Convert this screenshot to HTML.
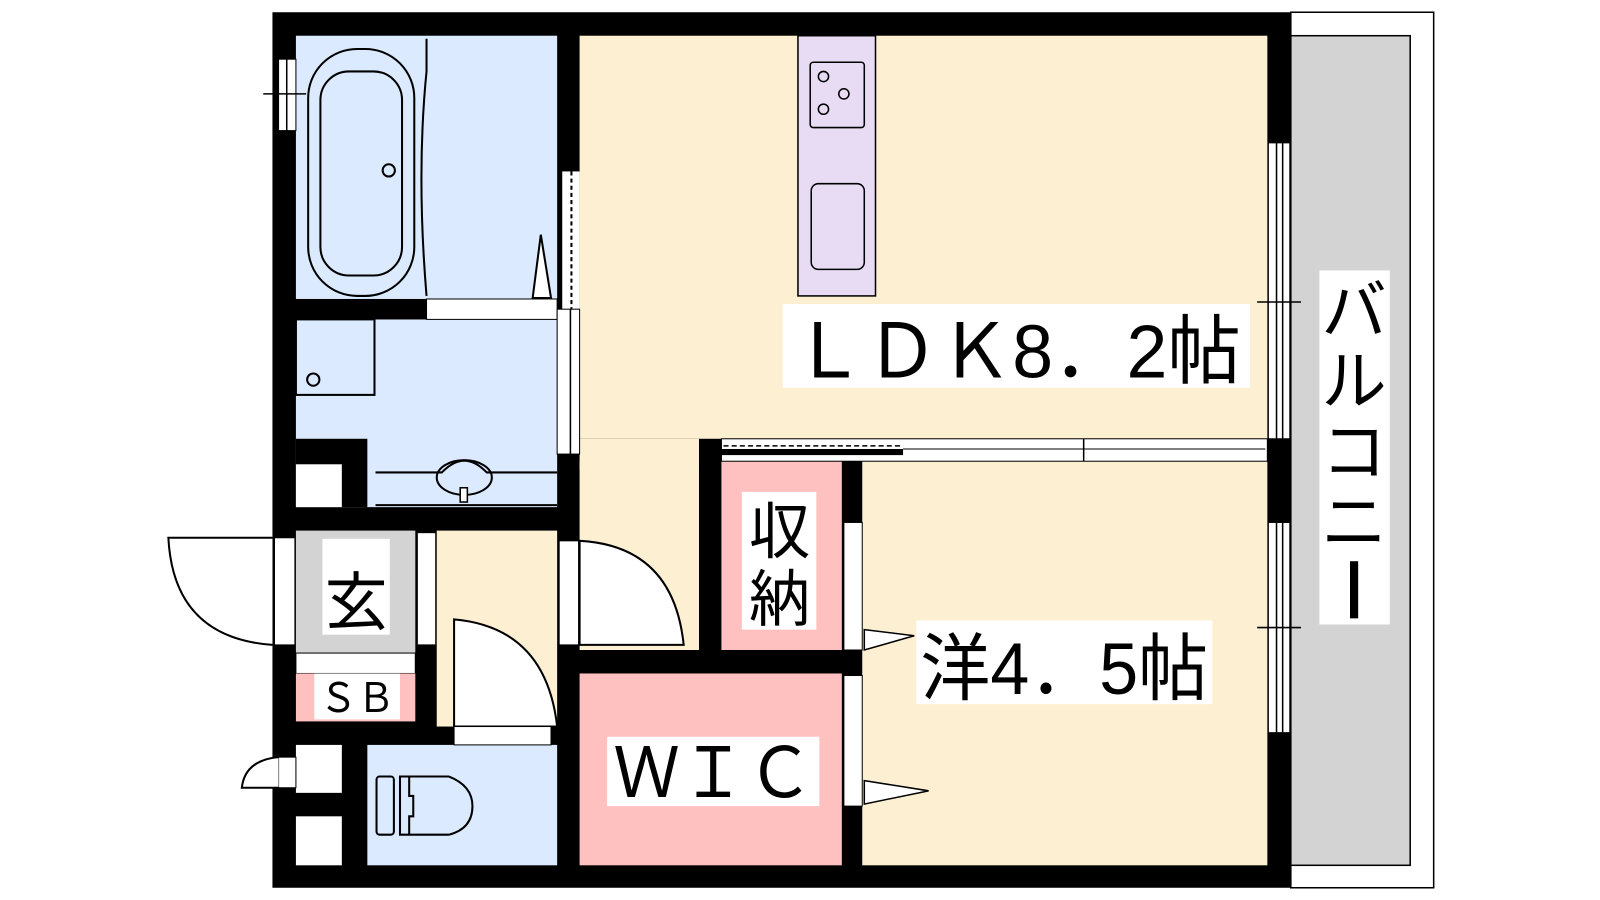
<!DOCTYPE html>
<html><head><meta charset="utf-8"><style>
html,body{margin:0;padding:0;background:#fff;}
svg{display:block}
text{font-family:"Liberation Sans","Noto Sans CJK JP",sans-serif;fill:#000}
</style></head><body>
<svg width="1600" height="900" viewBox="0 0 1568 882" preserveAspectRatio="none" xmlns="http://www.w3.org/2000/svg">
<!-- balcony -->
<rect x="1265" y="12" width="140" height="858" fill="#fff" stroke="#000" stroke-width="1.5"/>
<rect x="1265" y="35" width="117" height="813" fill="#d3d3d3" stroke="#000" stroke-width="1.5"/>
<!-- walls base -->
<rect x="267" y="12" width="998" height="858" fill="#000"/>
<!-- rooms -->
<rect x="568" y="35" width="674" height="395" fill="#fdf0d2"/>
<rect x="845" y="452" width="397" height="396" fill="#fdf0d2"/>
<rect x="290" y="35" width="256" height="258" fill="#dbeafe"/>
<rect x="290" y="313" width="256" height="184" fill="#dbeafe"/>
<rect x="568" y="452" width="117" height="185" fill="#fdf0d2"/>
<rect x="568" y="430" width="117" height="30" fill="#fdf0d2"/>
<rect x="707" y="452" width="118" height="185" fill="#ffc0c0"/>
<rect x="568" y="660" width="257" height="188" fill="#ffc0c0"/>
<rect x="290" y="520" width="117" height="120" fill="#d3d3d3"/>
<rect x="290" y="640" width="117" height="20" fill="#fff" stroke="#000" stroke-width="1"/>
<rect x="290" y="660" width="117" height="47" fill="#ffc0c0"/>
<rect x="428" y="520" width="118" height="192" fill="#fdf0d2"/>
<rect x="360" y="730" width="186" height="118" fill="#dbeafe"/>
<!-- bath inner black/white details -->
<rect x="290" y="430" width="70" height="67" fill="#000"/>
<rect x="290" y="455" width="45" height="42" fill="#fff"/>
<rect x="290" y="730" width="45" height="47" fill="#fff"/>
<rect x="290" y="800" width="45" height="48" fill="#fff"/>
<rect x="290" y="293" width="128" height="20" fill="#000"/>
<rect x="418" y="293" width="128" height="20" fill="#fff" stroke="#000" stroke-width="1"/>
<!-- bathtub -->
<rect x="302" y="48" width="104" height="242" rx="48" fill="none" stroke="#000" stroke-width="2"/>
<rect x="314" y="70" width="80" height="200" rx="28" fill="none" stroke="#000" stroke-width="2"/>
<circle cx="381" cy="167" r="6" fill="none" stroke="#000" stroke-width="2"/>
<path d="M418 38 V70 Q408 170 418 290" fill="none" stroke="#000" stroke-width="2"/>
<polygon points="530,230 522,292 540,292" fill="#fff" stroke="#000" stroke-width="2"/>
<!-- washroom -->
<rect x="290" y="313" width="77" height="74" fill="none" stroke="#000" stroke-width="2"/>
<circle cx="307" cy="372" r="6" fill="none" stroke="#000" stroke-width="2"/>
<path d="M368 463 H433 Q455 440 477 463 H546" fill="none" stroke="#000" stroke-width="2"/>
<ellipse cx="455" cy="468" rx="27" ry="17" fill="none" stroke="#000" stroke-width="2"/>
<rect x="451" y="478" width="7" height="14" fill="#fff" stroke="#000" stroke-width="1.5"/>
<line x1="368" y1="495" x2="546" y2="495" stroke="#000" stroke-width="2"/>
<!-- bath-ldk wall openings -->
<rect x="551" y="168" width="17" height="135" fill="#fff"/>
<line x1="560" y1="168" x2="560" y2="303" stroke="#000" stroke-width="2" stroke-dasharray="4,3"/>
<rect x="546" y="303" width="22" height="142" fill="#fff" stroke="#000" stroke-width="1"/>
<line x1="559" y1="303" x2="559" y2="445" stroke="#000" stroke-width="1.5"/>
<!-- left window -->
<rect x="273" y="58" width="17" height="70" fill="#fff" stroke="#000" stroke-width="1"/>
<line x1="281" y1="58" x2="281" y2="128" stroke="#000" stroke-width="1.5"/>
<line x1="258" y1="92" x2="300" y2="92" stroke="#000" stroke-width="1.5"/>
<!-- entrance door -->
<rect x="269" y="527" width="20" height="105" fill="#fff" stroke="#000" stroke-width="1"/>
<path d="M267 527 H165 Q170 625 267 632" fill="#fff" stroke="#000" stroke-width="2"/>
<rect x="409" y="522" width="18" height="110" fill="#fff" stroke="#000" stroke-width="1"/>
<!-- hall door -->
<path d="M445 607 Q535 615 546 712 H445 Z" fill="#fff" stroke="#000" stroke-width="2"/>
<rect x="445" y="712" width="95" height="18" fill="#fff" stroke="#000" stroke-width="1"/>
<!-- toilet small door -->
<rect x="273" y="742" width="17" height="30" fill="#fff" stroke="#000" stroke-width="1"/>
<path d="M273 742 Q240 745 237 772 H273" fill="#fff" stroke="#000" stroke-width="2"/>
<!-- toilet -->
<rect x="369" y="761" width="17" height="57" rx="3" fill="#dbeafe" stroke="#000" stroke-width="2"/>
<path d="M392 761 H440 Q463 770 463 790 Q463 812 440 818 H392 Z" fill="#dbeafe" stroke="#000" stroke-width="2"/>
<path d="M401 761 V780 H405 V800 H401 V818" fill="none" stroke="#000" stroke-width="2"/>
<!-- LDK door from hallway -->
<rect x="548" y="530" width="19" height="102" fill="#fff" stroke="#000" stroke-width="1"/>
<path d="M568 530 Q660 535 670 632 H568 Z" fill="#fff" stroke="#000" stroke-width="2"/>
<!-- divider wall LDK / western room -->
<rect x="707" y="430" width="535" height="22" fill="#fff" stroke="#000" stroke-width="1"/>
<rect x="707" y="440" width="178" height="6" fill="#000"/>
<line x1="709" y1="437" x2="885" y2="437" stroke="#000" stroke-width="1.5" stroke-dasharray="5,3"/>
<line x1="885" y1="440" x2="1240" y2="440" stroke="#000" stroke-width="1"/>
<line x1="1062" y1="430" x2="1062" y2="452" stroke="#000" stroke-width="1.5"/>
<!-- doors into western room -->
<rect x="827" y="512" width="18" height="125" fill="#fff" stroke="#000" stroke-width="1"/>
<polygon points="847,617 896,623 847,637" fill="#fff" stroke="#000" stroke-width="1.5"/>
<rect x="827" y="662" width="18" height="128" fill="#fff" stroke="#000" stroke-width="1"/>
<polygon points="847,765 910,775 847,788" fill="#fff" stroke="#000" stroke-width="1.5"/>
<!-- right windows -->
<rect x="1243" y="140" width="21" height="290" fill="#fff" stroke="#000" stroke-width="1"/>
<line x1="1251" y1="140" x2="1251" y2="430" stroke="#000" stroke-width="1.5"/>
<line x1="1257" y1="140" x2="1257" y2="430" stroke="#000" stroke-width="1.5"/>
<rect x="1243" y="512" width="21" height="206" fill="#fff" stroke="#000" stroke-width="1"/>
<line x1="1251" y1="512" x2="1251" y2="718" stroke="#000" stroke-width="1.5"/>
<line x1="1257" y1="512" x2="1257" y2="718" stroke="#000" stroke-width="1.5"/>
<line x1="1232" y1="296" x2="1275" y2="296" stroke="#000" stroke-width="1.5"/>
<line x1="1232" y1="615" x2="1275" y2="615" stroke="#000" stroke-width="1.5"/>
<!-- kitchen -->
<rect x="782" y="35" width="76" height="255" fill="#e8dcf5" stroke="#000" stroke-width="1.5"/>
<rect x="794" y="61" width="53" height="64" rx="3" fill="none" stroke="#000" stroke-width="1.5"/>
<circle cx="807" cy="75" r="5" fill="none" stroke="#000" stroke-width="1.5"/>
<circle cx="827" cy="92" r="5" fill="none" stroke="#000" stroke-width="1.5"/>
<circle cx="807" cy="107" r="5" fill="none" stroke="#000" stroke-width="1.5"/>
<rect x="795" y="180" width="52" height="84" rx="7" fill="none" stroke="#000" stroke-width="1.5"/>
<!-- labels -->
<rect x="767" y="298" width="458" height="82" fill="#fff"/>
<text x="996" y="370" font-size="74" text-anchor="middle" textLength="440" lengthAdjust="spacingAndGlyphs">ＬＤＫ8．2帖</text>
<rect x="898" y="608" width="290" height="82" fill="#fff"/>
<text x="1043" y="680" font-size="72" text-anchor="middle" textLength="282" lengthAdjust="spacingAndGlyphs">洋4．5帖</text>
<rect x="727" y="482" width="73" height="135" fill="#fff"/>
<text x="764" y="542" font-size="60" text-anchor="middle">収</text>
<text x="764" y="608" font-size="60" text-anchor="middle">納</text>
<rect x="595" y="722" width="208" height="68" fill="#fff"/>
<text x="699" y="781" font-size="68" text-anchor="middle" textLength="196" lengthAdjust="spacingAndGlyphs">ＷＩＣ</text>
<rect x="316" y="528" width="66" height="94" fill="#fff"/>
<text x="349" y="612" font-size="62" text-anchor="middle">玄</text>
<rect x="308" y="660" width="84" height="45" fill="#fff"/>
<text x="350" y="698" font-size="40" text-anchor="middle" textLength="74" lengthAdjust="spacingAndGlyphs">ＳＢ</text>
<rect x="1293" y="265" width="69" height="347" fill="#fff"/>
<text x="1327" y="327" font-size="64" text-anchor="middle">バ</text>
<text x="1327" y="396" font-size="64" text-anchor="middle">ル</text>
<text x="1327" y="465" font-size="64" text-anchor="middle">コ</text>
<text x="1327" y="534" font-size="64" text-anchor="middle">ニ</text>
<rect x="1323" y="550" width="8" height="56" fill="#000"/>
</svg>
</body></html>
